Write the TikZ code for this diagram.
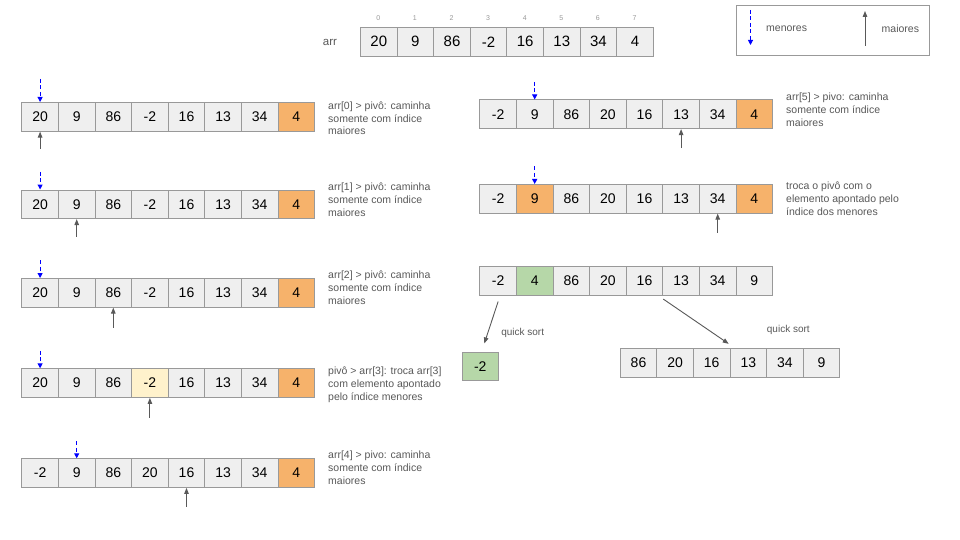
\documentclass[tikz,border=0pt]{standalone}
\usepackage{fontspec}
\setmainfont{Liberation Sans}
\usetikzlibrary{arrows.meta}
\definecolor{cellfill}{HTML}{EFEFEF}
\definecolor{cellline}{HTML}{999999}
\definecolor{pivotc}{HTML}{F6B26B}
\definecolor{swapc}{HTML}{FFF2CC}
\definecolor{greenc}{HTML}{B6D7A8}
\definecolor{txtgray}{HTML}{595959}
\definecolor{arrgray}{HTML}{595959}
\definecolor{idxgray}{HTML}{999999}
\begin{document}
\begin{tikzpicture}[x=1pt,y=-1pt,
  cell/.style={draw=cellline, fill=cellfill, line width=1pt, minimum width=36.6pt, minimum height=28.6pt,
    inner sep=0pt, anchor=north west, text=black, font=\fontsize{14}{16}\selectfont},
  pcell/.style={cell, fill=pivotc},
  ycell/.style={cell, fill=swapc},
  gcell/.style={cell, fill=greenc},
  note/.style={anchor=base west, align=left, text=txtgray, inner sep=0pt, font=\fontsize{10.5}{12.8}\selectfont},
  lbl/.style={text=txtgray, inner sep=0pt, font=\fontsize{10}{12}\selectfont},
  idx/.style={text=idxgray, inner sep=0pt, font=\fontsize{7}{8}\selectfont},
  menor/.style={blue, dash pattern=on 4pt off 2.5pt, line width=1pt, -{Triangle[length=5pt,width=5pt]}},
  maior/.style={arrgray, line width=1pt, -{Triangle[length=6pt,width=4.5pt]}},
  qs/.style={arrgray, line width=0.9pt, -{Triangle[length=6pt,width=4.5pt]}},
]
\useasboundingbox[fill=white] (0,0) rectangle (960,540);

% top array
\node[lbl, font=\fontsize{11.5}{13}\selectfont] (arrlbl) at (330,42) {arr};
\foreach \v/\s [count=\i from 0] in {20/cell,9/cell,86/cell,-2/cell,16/cell,13/cell,34/cell,4/cell}
  {\node[\s, font=\fontsize{15}{17}\selectfont] (T\i) at (360+36.6*\i,27) {\v};
   \node[idx] (I\i) at (378.3+36.6*\i,18.5) {\i};}

% legend
\node[draw=cellline, line width=1pt, minimum width=193pt, minimum height=50pt, anchor=north west, inner sep=0pt] (legend) at (736,5) {};
\coordinate (lgm1) at (750.5,10);
\coordinate (lgm2) at (750.5,45);
\draw[menor] (lgm1) -- (lgm2);
\node[lbl, anchor=west, font=\fontsize{10.5}{12}\selectfont] (lgmt) at (766,28.5) {menores};
\coordinate (lgM1) at (865,46);
\coordinate (lgM2) at (865,11);
\draw[maior] (lgM1) -- (lgM2);
\node[lbl, anchor=west, font=\fontsize{10.5}{12}\selectfont] (lgMt) at (881.5,28.5) {maiores};

% left rows
\foreach \v/\s [count=\i from 0] in {20/cell,9/cell,86/cell,-2/cell,16/cell,13/cell,34/cell,4/pcell}
  {\node[\s] (La\i) at (21.3+36.6*\i,102) {\v};}
\foreach \v/\s [count=\i from 0] in {20/cell,9/cell,86/cell,-2/cell,16/cell,13/cell,34/cell,4/pcell}
  {\node[\s] (Lb\i) at (21.3+36.6*\i,189.5) {\v};}
\foreach \v/\s [count=\i from 0] in {20/cell,9/cell,86/cell,-2/cell,16/cell,13/cell,34/cell,4/pcell}
  {\node[\s] (Lc\i) at (21.3+36.6*\i,278) {\v};}
\foreach \v/\s [count=\i from 0] in {20/cell,9/cell,86/cell,-2/ycell,16/cell,13/cell,34/cell,4/pcell}
  {\node[\s] (Ld\i) at (21.3+36.6*\i,368.3) {\v};}
\foreach \v/\s [count=\i from 0] in {-2/cell,9/cell,86/cell,20/cell,16/cell,13/cell,34/cell,4/pcell}
  {\node[\s] (Le\i) at (21.3+36.6*\i,458.3) {\v};}

% left arrows
\coordinate (ma) at ([yshift=23pt]La0.north);  \draw[menor] (ma) -- (La0.north);
\coordinate (Ma) at ([yshift=-17pt]La0.south); \draw[maior] (Ma) -- (La0.south);
\coordinate (mb) at ([yshift=17.5pt]Lb0.north); \draw[menor] (mb) -- (Lb0.north);
\coordinate (Mb) at ([yshift=-17.5pt]Lb1.south); \draw[maior] (Mb) -- (Lb1.south);
\coordinate (mc) at ([yshift=18pt]Lc0.north);  \draw[menor] (mc) -- (Lc0.north);
\coordinate (Mc) at ([yshift=-20pt]Lc2.south); \draw[maior] (Mc) -- (Lc2.south);
\coordinate (md) at ([yshift=17.5pt]Ld0.north); \draw[menor] (md) -- (Ld0.north);
\coordinate (Md) at ([yshift=-20pt]Ld3.south); \draw[maior] (Md) -- (Ld3.south);
\coordinate (me) at ([yshift=17pt]Le1.north);  \draw[menor] (me) -- (Le1.north);
\coordinate (Me) at ([yshift=-19pt]Le4.south); \draw[maior] (Me) -- (Le4.south);

% left notes (anchor = baseline of last line)
\node[note] (Na) at (328,135) {arr[0] > pivô: caminha\\somente com índice\\maiores};
\node[note] (Nb) at (328,216) {arr[1] > pivô: caminha\\somente com índice\\maiores};
\node[note] (Nc) at (328,304) {arr[2] > pivô: caminha\\somente com índice\\maiores};
\node[note] (Nd) at (328,400) {pivô > arr[3]: troca arr[3]\\com elemento apontado\\pelo índice menores};
\node[note] (Ne) at (328,484.5) {arr[4] > pivo: caminha\\somente com índice\\maiores};

% right rows
\foreach \v/\s [count=\i from 0] in {-2/cell,9/cell,86/cell,20/cell,16/cell,13/cell,34/cell,4/pcell}
  {\node[\s] (Ra\i) at (479.3+36.6*\i,99.5) {\v};}
\foreach \v/\s [count=\i from 0] in {-2/cell,9/pcell,86/cell,20/cell,16/cell,13/cell,34/cell,4/pcell}
  {\node[\s] (Rb\i) at (479.3+36.6*\i,184) {\v};}
\foreach \v/\s [count=\i from 0] in {-2/cell,4/gcell,86/cell,20/cell,16/cell,13/cell,34/cell,9/cell}
  {\node[\s] (Rc\i) at (479.3+36.6*\i,266) {\v};}

\coordinate (mra) at ([yshift=17.5pt]Ra1.north); \draw[menor] (mra) -- (Ra1.north);
\coordinate (Mra) at ([yshift=-19pt]Ra5.south);  \draw[maior] (Mra) -- (Ra5.south);
\coordinate (mrb) at ([yshift=17.5pt]Rb1.north); \draw[menor] (mrb) -- (Rb1.north);
\coordinate (Mrb) at ([yshift=-19pt]Rb6.south);  \draw[maior] (Mrb) -- (Rb6.south);

\node[note] (NRa) at (786,126.5) {arr[5] > pivo: caminha\\somente com índice\\maiores};
\node[note] (NRb) at (786,215) {troca o pivô com o\\elemento apontado pelo\\índice dos menores};

% partitions
\node[gcell] (Q0) at (461.5,351.5) {-2};
\foreach \v [count=\i from 0] in {86,20,16,13,34,9}
  {\node[cell] (S\i) at (619.7+36.6*\i,348.3) {\v};}

\coordinate (qa1) at ([yshift=-6pt]Rc0.south);
\coordinate (qa2) at ([xshift=4pt,yshift=8pt]Q0.north);
\draw[qs] (qa1) -- (qa2);
\coordinate (qb1) at ([yshift=-3.5pt]Rc4.south east);
\coordinate (qb2) at ([xshift=-1.8pt,yshift=4.5pt]S2.north east);
\draw[qs] (qb1) -- (qb2);
\node[lbl] (qsa) at (522.7,333) {quick sort};
\node[lbl] (qsb) at (788.3,330) {quick sort};
\end{tikzpicture}
\end{document}
